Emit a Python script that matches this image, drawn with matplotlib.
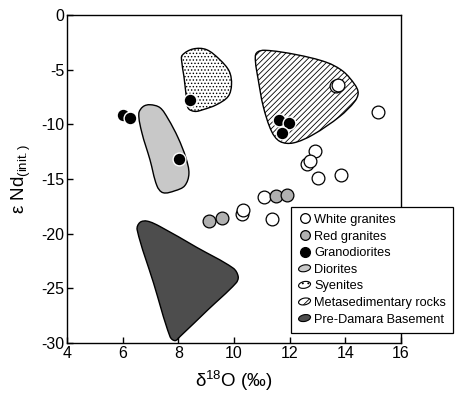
import numpy as np
import matplotlib
matplotlib.use("Agg")
from matplotlib import pyplot as plt
import matplotlib.patches as mpatches
from matplotlib.path import Path
from matplotlib.lines import Line2D
from matplotlib.legend_handler import HandlerPatch

plt.rcParams['font.family'] = ['Liberation Sans', 'DejaVu Sans']
plt.rcParams['mathtext.fontset'] = 'custom'
plt.rcParams['mathtext.rm'] = 'Liberation Sans'
plt.rcParams['mathtext.it'] = 'Liberation Sans'
plt.rcParams['axes.unicode_minus'] = False
plt.rcParams['hatch.linewidth'] = 0.6

# data ----------------------------------------------------------------------
white_x = [13.68, 13.74, 15.17, 12.90, 12.64, 12.72, 13.00, 13.86, 10.27, 10.31, 11.35, 11.07]
white_y = [-6.52, -6.36, -8.86, -12.47, -13.60, -13.32, -14.91, -14.61, -18.18, -17.81, -18.64, -16.65]

red_x = [9.10, 9.57, 11.50, 11.89]
red_y = [-18.82, -18.52, -16.59, -16.44]

grano_x = [6.00, 6.26, 8.42, 8.03, 11.62, 11.98, 11.71]
grano_y = [-9.18, -9.41, -7.80, -13.14, -9.57, -9.87, -10.79]

# outlines of the fields (points on the boundary)
dior_x = [6.98, 7.34, 7.63, 7.99, 8.27, 8.38, 8.23, 7.88, 7.45, 7.23, 6.98, 6.69, 6.58, 6.73]
dior_y = [-8.20, -8.47, -9.48, -11.22, -13.05, -14.51, -15.61, -16.07, -16.25, -15.61, -13.23, -10.76, -9.02, -8.38]

syen_x = [8.14, 8.53, 9.01, 9.49, 9.83, 9.91, 9.79, 9.37, 8.89, 8.59, 8.35, 8.27, 8.20, 8.12]
syen_y = [-3.67, -3.10, -3.16, -4.08, -5.15, -6.36, -7.44, -8.20, -8.65, -8.81, -8.50, -7.12, -5.60, -4.23]

meta_x = [10.81, 11.11, 12.24, 13.32, 13.92, 14.34, 14.46, 14.34, 13.80, 12.84, 12.12, 11.65, 11.35, 11.05, 10.87, 10.77]
meta_y = [-3.46, -3.22, -3.62, -4.32, -5.15, -6.36, -7.12, -7.89, -9.27, -10.94, -11.70, -11.56, -10.64, -8.35, -5.91, -4.23]

base_x = [6.62, 6.88, 7.34, 8.66, 9.97, 10.15, 10.07, 9.06, 8.06, 7.88, 7.70, 7.11, 6.52]
base_y = [-18.97, -18.85, -19.34, -21.25, -23.15, -23.92, -24.52, -26.97, -29.41, -29.78, -29.41, -24.52, -19.64]

xticks = [4, 6, 8, 10, 12, 14, 16]
yticks = [0, -5, -10, -15, -20, -25, -30]

YK = 0.392  # y unit relative to x unit on screen


def smooth_path(xs, ys):
    # closed smooth curve through the outline points (bezier segments)
    p = np.column_stack([xs, np.array(ys) * YK])
    n = len(p)
    tang = []
    for i in range(n):
        d = p[(i + 1) % n] - p[i - 1]
        tang.append(d / np.hypot(*d))
    verts = [p[0]]
    codes = [Path.MOVETO]
    for i in range(n):
        a, b = p[i], p[(i + 1) % n]
        L = np.hypot(*(b - a)) / 3.0
        verts += [a + tang[i] * L, b - tang[(i + 1) % n] * L, b]
        codes += [Path.CURVE4] * 3
    v = np.array(verts)
    v[:, 1] /= YK
    return Path(v, codes)


class BlobHandler(HandlerPatch):
    def create_artists(self, legend, orig_handle, xdescent, ydescent, width, height, fontsize, trans):
        cx = 0.5 * width - xdescent
        cy = 0.5 * height - ydescent
        p = mpatches.Ellipse((cx, cy), width * 0.95, height * 0.75, angle=12)
        self.update_prop(p, orig_handle, legend)
        p.set_transform(trans)
        return [p]


fig = plt.figure(figsize=(4.58, 3.97), dpi=100)
ax = fig.add_axes([0.1463, 0.136, 0.7293, 0.826])

dior = mpatches.PathPatch(smooth_path(dior_x, dior_y), facecolor='#c8c8c8', edgecolor='black', lw=1.0, zorder=1)
syen = mpatches.PathPatch(smooth_path(syen_x, syen_y), facecolor='white', edgecolor='black', lw=1.0, hatch='.....', zorder=1)
meta = mpatches.PathPatch(smooth_path(meta_x, meta_y), facecolor='white', edgecolor='black', lw=1.0, hatch='//////', zorder=1)
base = mpatches.PathPatch(smooth_path(base_x, base_y), facecolor='#4d4d4d', edgecolor='black', lw=1.0, zorder=1)
for pp in (dior, syen, meta, base):
    ax.add_patch(pp)

ms = 9.2
ax.plot(white_x, white_y, 'o', ms=ms, mfc='white', mec='black', mew=0.9, ls='none', zorder=3)
ax.plot(red_x, red_y, 'o', ms=ms, mfc='#b0b0b0', mec='black', mew=0.9, ls='none', zorder=3)
ax.plot(grano_x, grano_y, 'o', ms=ms, mfc='black', mec='white', mew=1.0, ls='none', zorder=4)

ax.set_xlim(4, 16)
ax.set_ylim(-30, 0)
ax.set_xticks(xticks)
ax.set_yticks(yticks)
ax.tick_params(direction='in', length=4.5, width=1, labelsize=11.5, top=False, right=False, pad=2)
for s in ax.spines.values():
    s.set_linewidth(1.0)

ax.set_xlabel('δ$^{18}$O (‰)', fontsize=13.5, labelpad=6)
ax.set_ylabel('ε Nd$_{\\rm (init.)}$', fontsize=13.5, labelpad=6)

handles = [
    Line2D([], [], marker='o', ls='none', ms=7, mfc='white', mec='black', mew=0.9),
    Line2D([], [], marker='o', ls='none', ms=7, mfc='#b0b0b0', mec='black', mew=0.9),
    Line2D([], [], marker='o', ls='none', ms=7, mfc='black', mec='black'),
    mpatches.Patch(facecolor='#c8c8c8', edgecolor='black', lw=0.8),
    mpatches.Patch(facecolor='white', edgecolor='black', lw=0.8, hatch='...'),
    mpatches.Patch(facecolor='white', edgecolor='black', lw=0.8, hatch='////'),
    mpatches.Patch(facecolor='#4d4d4d', edgecolor='black', lw=0.8),
]
labels = ['White granites', 'Red granites', 'Granodiorites', 'Diorites', 'Syenites',
          'Metasedimentary rocks', 'Pre-Damara Basement']
leg = ax.legend(handles, labels, loc='upper left', bbox_to_anchor=(0.671, 0.415), borderaxespad=0,
                fontsize=9.2, frameon=True, fancybox=False, framealpha=1, edgecolor='black',
                handlelength=1.0, handletextpad=0.25, labelspacing=0.36, borderpad=0.55,
                handler_map={mpatches.Patch: BlobHandler()})
leg.get_frame().set_linewidth(0.9)
leg.set_zorder(10)

fig.savefig('out.png', dpi=100)
